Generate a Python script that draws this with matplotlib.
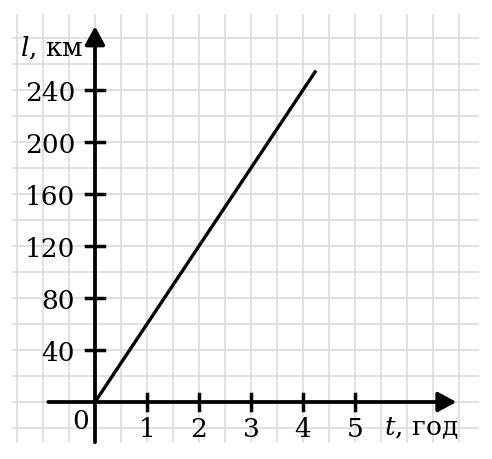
import matplotlib
matplotlib.use("Agg")
import matplotlib.pyplot as plt

# дані графіка
t_vals = [0, 4.25]
l_vals = [0, 255]
x_ticks = [1, 2, 3, 4, 5]
y_ticks = [40, 80, 120, 160, 200, 240]

plt.rcParams['font.family'] = ['DejaVu Serif']
plt.rcParams['mathtext.fontset'] = 'dejavuserif'

fig = plt.figure(figsize=(4.92, 4.59), dpi=100)
ax = fig.add_axes([0, 0, 1, 1])
ax.set_xlim(-95 / 52, 397 / 52)
ax.set_ylim(-57 / 1.3, 402 / 1.3)
ax.axis("off")

# клітинки
grid_c = '#dcdcdc'
for i in range(-3, 15):
    ax.plot([i * 0.5, i * 0.5], [-31, 298], color=grid_c, lw=1.2, zorder=1)
for j in range(-1, 15):
    ax.plot([-1.58, 7.37], [j * 20, j * 20], color=grid_c, lw=1.2, zorder=1)

# осі зі стрілками
arr = dict(arrowstyle='-|>,head_length=0.55,head_width=0.3', lw=2.7,
           color='black', mutation_scale=20, shrinkA=0, shrinkB=0)
ax.annotate('', xy=(6.95, 0), xytext=(-0.9, 0), arrowprops=arr, zorder=3)
ax.annotate('', xy=(0, 289), xytext=(0, -31), arrowprops=arr, zorder=3)

# поділки
fs = 19
for x in x_ticks:
    ax.plot([x, x], [-6.5, 6.5], color='black', lw=2.5, zorder=3)
    ax.text(x, -21, str(x), ha='center', va='center', fontsize=fs)
for y in y_ticks:
    ax.plot([-0.17, 0.17], [y, y], color='black', lw=2.5, zorder=3)
    ax.text(-0.38, y - 3, str(y), ha='right', va='center', fontsize=fs)

ax.text(-0.28, -15, '0', ha='center', va='center', fontsize=fs)
ax.text(-1.45, 273, '$l$, км', ha='left', va='center', fontsize=fs)
ax.text(5.55, -20, '$t$, год', ha='left', va='center', fontsize=fs)

# графік руху
ax.plot(t_vals, l_vals, color='black', lw=2.4, zorder=4, solid_capstyle='butt')

fig.savefig('out.png', dpi=100)
